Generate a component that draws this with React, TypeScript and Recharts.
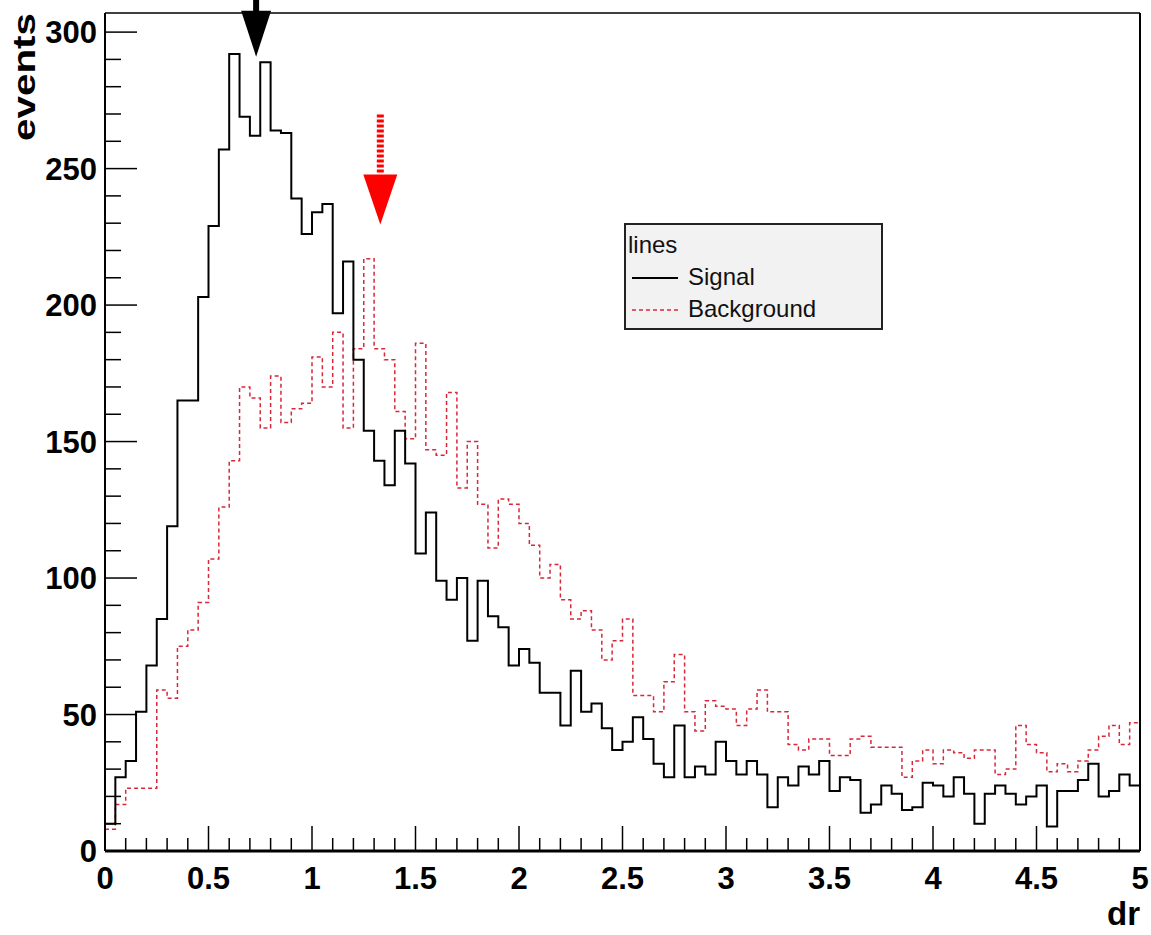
import React from "react";
import { LineChart, Line, XAxis, YAxis, ReferenceLine, ReferenceDot } from "recharts";

// 100 bins of width 0.05 on dr in [0, 5]
const BIN_WIDTH = 0.05;

const signalCounts = [
  10, 27, 33, 51, 68, 85, 119, 165, 165, 203,
  229, 257, 292, 269, 262, 289, 264, 263, 239, 226,
  234, 237, 197, 216, 180, 154, 143, 134, 154, 142,
  109, 124, 99, 92, 100, 77, 99, 86, 82, 68,
  74, 69, 58, 58, 46, 66, 51, 54, 45, 37,
  40, 49, 41, 32, 27, 46, 27, 31, 28, 40,
  33, 28, 33, 28, 16, 27, 24, 31, 28, 33,
  22, 27, 26, 14, 17, 24, 21, 15, 16, 25,
  24, 20, 27, 21, 10, 21, 24, 21, 17, 20,
  24, 9, 22, 22, 26, 32, 20, 22, 28, 24,
];

const backgroundCounts = [
  8, 17, 23, 23, 23, 59, 56, 75, 81, 91,
  107, 126, 143, 170, 166, 155, 174, 157, 162, 164,
  181, 170, 190, 155, 184, 217, 184, 180, 161, 151,
  186, 147, 145, 168, 133, 150, 127, 111, 129, 127,
  120, 112, 100, 105, 92, 85, 88, 81, 70, 77,
  85, 57, 57, 51, 62, 72, 51, 44, 55, 53,
  52, 46, 52, 59, 51, 51, 39, 37, 41, 41,
  35, 35, 41, 42, 38, 38, 38, 27, 33, 37,
  32, 37, 36, 34, 37, 37, 28, 30, 46, 39,
  36, 29, 32, 29, 33, 37, 42, 46, 39, 47,
];

const xTicks = [
  0, 0.1, 0.2, 0.3, 0.4, 0.5, 0.6, 0.7, 0.8, 0.9,
  1, 1.1, 1.2, 1.3, 1.4, 1.5, 1.6, 1.7, 1.8, 1.9,
  2, 2.1, 2.2, 2.3, 2.4, 2.5, 2.6, 2.7, 2.8, 2.9,
  3, 3.1, 3.2, 3.3, 3.4, 3.5, 3.6, 3.7, 3.8, 3.9,
  4, 4.1, 4.2, 4.3, 4.4, 4.5, 4.6, 4.7, 4.8, 4.9, 5,
];
const xLabels = ["0", "0.5", "1", "1.5", "2", "2.5", "3", "3.5", "4", "4.5", "5"];

const yTicks = [
  0, 10, 20, 30, 40, 50, 60, 70, 80, 90, 100, 110, 120, 130, 140, 150,
  160, 170, 180, 190, 200, 210, 220, 230, 240, 250, 260, 270, 280, 290, 300,
];
const yLabels = ["0", "50", "100", "150", "200", "250", "300"];

// arrow markers: tip position in data coordinates
const arrows = [
  { id: "sig", dr: 0.73, events: 291, color: "#000000", dashed: false },
  { id: "bkg", dr: 1.33, events: 229.5, color: "#ff0000", dashed: true },
];

const histData = signalCounts.map((s, i) => ({
  dr: +(i * BIN_WIDTH).toFixed(2),
  signal: s,
  background: backgroundCounts[i],
}));
// closing edge of the last bin
histData.push({
  dr: 5,
  signal: signalCounts[signalCounts.length - 1],
  background: backgroundCounts[backgroundCounts.length - 1],
});

const FONT = "'Liberation Sans', Arial, Helvetica, sans-serif";
const BKG_COLOR = "#d8283a";

function XTick(props: any) {
  const { x, y, payload } = props;
  const label = String(payload.value);
  const major = xLabels.includes(label);
  return (
    <g>
      <line x1={x} x2={x} y1={y} y2={y - (major ? 25 : 13)} stroke="#000" strokeWidth={1.5} />
      {major && (
        <text x={x} y={y + 38} textAnchor="middle" fontSize={31} fontWeight="bold" fontFamily={FONT} fill="#000">
          {label}
        </text>
      )}
    </g>
  );
}

function YTick(props: any) {
  const { x, y, payload } = props;
  const label = String(payload.value);
  const major = yLabels.includes(label);
  return (
    <g>
      <line x1={x} x2={x + (major ? 32 : 16)} y1={y} y2={y} stroke="#000" strokeWidth={1.5} />
      {major && (
        <text x={x - 8} y={y + 11} textAnchor="end" fontSize={31} fontWeight="bold" fontFamily={FONT} fill="#000">
          {label}
        </text>
      )}
    </g>
  );
}

function YTitle(props: any) {
  const { viewBox } = props;
  const bx = 35;
  const by = viewBox.y;
  return (
    <text
      x={bx}
      y={by}
      transform={`rotate(-90, ${bx}, ${by})`}
      textAnchor="end"
      fontSize={32}
      fontWeight="bold"
      fontFamily={FONT}
      textLength={128}
      lengthAdjust="spacingAndGlyphs"
      fill="#000"
    >
      events
    </text>
  );
}

function XTitle(props: any) {
  const { viewBox } = props;
  return (
    <text
      x={viewBox.x + viewBox.width}
      y={viewBox.y + 74}
      textAnchor="end"
      fontSize={33}
      fontWeight="bold"
      fontFamily={FONT}
      fill="#000"
    >
      dr
    </text>
  );
}

function Arrow(props: any) {
  const { cx, cy, color, dashed } = props;
  if (dashed) {
    return (
      <g>
        <line x1={cx} x2={cx} y1={cy - 110} y2={cy - 50} stroke={color} strokeWidth={7} strokeDasharray="3 2" />
        <polygon points={`${cx - 17},${cy - 50} ${cx + 17},${cy - 50} ${cx},${cy}`} fill={color} />
      </g>
    );
  }
  return (
    <g>
      <line x1={cx} x2={cx} y1={cy - 62} y2={cy - 40} stroke={color} strokeWidth={6} />
      <polygon points={`${cx - 15},${cy - 46} ${cx + 15},${cy - 46} ${cx},${cy}`} fill={color} />
    </g>
  );
}

function LegendBox() {
  return (
    <div
      style={{
        position: "absolute",
        left: 624,
        top: 223,
        width: 259,
        height: 107,
        boxSizing: "border-box",
        border: "2px solid #222",
        background: "#f2f2f2",
      }}
    >
      <svg width={255} height={103} style={{ display: "block" }}>
        <text x={2} y={28} fontSize={24} fontFamily={FONT} fill="#111">lines</text>
        <line x1={6} x2={52} y1={53} y2={53} stroke="#000" strokeWidth={2} />
        <text x={62} y={60} fontSize={24} fontFamily={FONT} fill="#111">Signal</text>
        <line x1={6} x2={52} y1={85} y2={85} stroke={BKG_COLOR} strokeWidth={1.5} strokeDasharray="4 3" />
        <text x={62} y={92} fontSize={24} fontFamily={FONT} fill="#111">Background</text>
      </svg>
    </div>
  );
}

export default function App() {
  return (
    <div style={{ position: "absolute", left: 0, top: 0, width: 1151, height: 935, background: "#fff" }}>
      <LineChart
        width={1151}
        height={935}
        data={histData}
        margin={{ top: 13, right: 11, bottom: 0, left: 0 }}
      >
        <XAxis
          dataKey="dr"
          type="number"
          domain={[0, 5]}
          ticks={xTicks}
          interval={0}
          tickSize={0}
          tickMargin={0}
          tick={<XTick />}
          tickLine={false}
          axisLine={{ stroke: "#000", strokeWidth: 3 }}
          height={84}
          label={<XTitle />}
        />
        <YAxis
          type="number"
          domain={[0, 307]}
          ticks={yTicks}
          interval={0}
          tickSize={0}
          tickMargin={0}
          tick={<YTick />}
          tickLine={false}
          axisLine={{ stroke: "#000", strokeWidth: 2 }}
          width={105}
          label={<YTitle />}
        />
        <ReferenceLine y={307} stroke="#000" strokeWidth={1.5} />
        <ReferenceLine x={5} stroke="#000" strokeWidth={2} />
        <Line
          dataKey="background"
          name="Background"
          type="stepAfter"
          stroke={BKG_COLOR}
          strokeWidth={1.5}
          strokeDasharray="4 3"
          dot={false}
          isAnimationActive={false}
        />
        <Line
          dataKey="signal"
          name="Signal"
          type="stepAfter"
          stroke="#000"
          strokeWidth={2}
          dot={false}
          isAnimationActive={false}
        />
        {arrows.map((a) => (
          <ReferenceDot
            key={a.id}
            x={a.dr}
            y={a.events}
            ifOverflow="visible"
            shape={(p: any) => <Arrow {...p} color={a.color} dashed={a.dashed} />}
          />
        ))}
      </LineChart>
      <LegendBox />
    </div>
  );
}
